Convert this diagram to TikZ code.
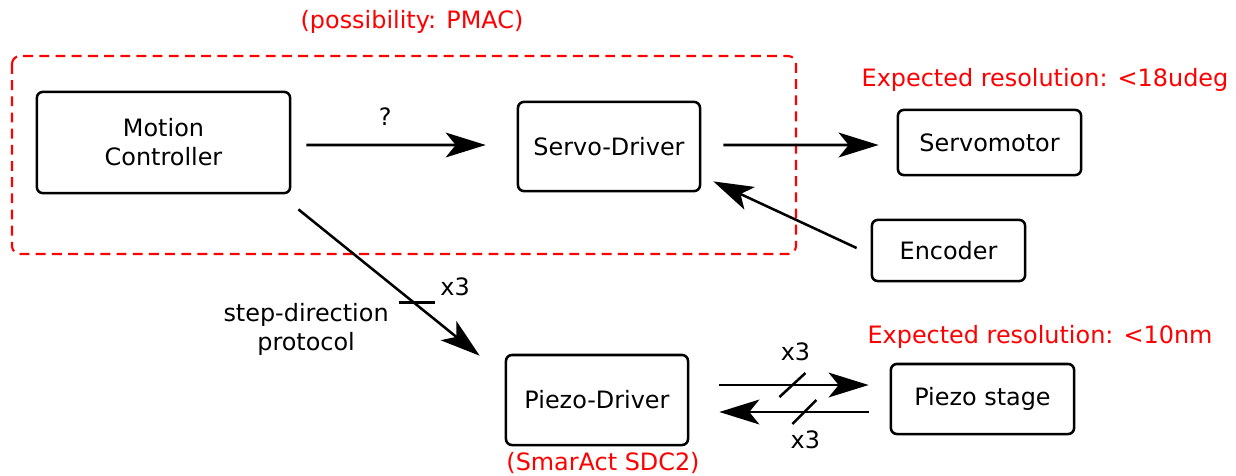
\documentclass[tikz,border=0pt]{standalone}
\usepackage{fontspec}
\setmainfont{DejaVu Sans}
\usetikzlibrary{arrows.meta, positioning, calc}

\begin{document}
\begin{tikzpicture}[x=0.025cm, y=-0.025cm, line width=1.8pt,
    block/.style = {draw, rounded corners=1.5mm, align=center, font=\fontsize{17}{20.6}\selectfont},
    note/.style = {text=red, font=\fontsize{17}{20.6}\selectfont},
    lbl/.style = {font=\fontsize{17}{20.6}\selectfont, align=center},
    flow/.style = {-{Stealth[length=1cm, width=0.62cm, inset=0.25cm]}}]
        \useasboundingbox (0,0) rectangle (1236,475);
        \draw[red, line width=1.5pt, dash pattern=on 7pt off 4.5pt, rounded corners=2mm] (12,56) rectangle (796,254); % PMAC
        \node[note] (pmac) at (412,22) {(possibility: PMAC)};
        \node[block, minimum width=6.33cm, minimum height=2.53cm] (mc) at (163.5,142.5) {Motion\\Controller};
        \node[block, minimum width=4.55cm, minimum height=2.23cm] (sd) at (609,146.5) {Servo-Driver};
        \node[block, minimum width=4.58cm, minimum height=1.63cm] (sm) at (989.5,142.5) {Servomotor};
        \node[block, minimum width=3.83cm, minimum height=1.53cm] (enc) at (948.5,250.5) {Encoder};
        \node[block, minimum width=4.55cm, minimum height=2.25cm] (pd) at (597,400) {Piezo-Driver};
        \node[block, minimum width=4.58cm, minimum height=1.75cm] (ps) at (982.5,399) {Piezo stage};
        \node[note] (res1) at (1045,80) {Expected resolution: <18udeg};
        \node[note] (res2) at (1040,337) {Expected resolution: <10nm};
        \node[note, below=0cm of pd, xshift=0.15cm] (sdc) {(SmarAct SDC2)};
        % servo side
        \draw[flow] ($(mc.east)+(15,2.5)$) -- node[pos=0.44, above=0.35cm, lbl] (q) {?} ($(sd.west)+(-31,-1.5)$);
        \draw[flow] ($(sd.east)+(22,-1.5)$) -- ($(sm.west)+(-18,2.5)$);
        \draw[flow] ($(enc.west)+(-14,-2.5)$) -- ($(sd.south east)+(12,-11)$);
        % piezo side
        \coordinate (s1) at ($(mc.south east)+(7,15)$);
        \coordinate (e1) at ($(pd.north west)+(-25,2)$);
        \coordinate (tk1) at ($(s1)!0.638!(e1)$);
        \draw[flow] (s1) -- (e1);
        \draw ($(tk1)+(-15,0)$) -- ($(tk1)+(21,0)$);
        \node[lbl] (n1) at ($(tk1)+(41,-16)$) {x3};
        \node[lbl] (proto) at ($(tk1)+(-108,27)$) {step-direction\\protocol};
        \draw[flow] ($(pd.east)+(30,-15)$) -- coordinate[pos=0.49] (tk2) ($(ps.west)+(-21,-14)$);
        \draw ($(tk2)+(-13,12)$) -- ($(tk2)+(13,-12)$);
        \node[lbl] (n2) at ($(tk2)+(3,-33)$) {x3};
        \draw[flow] ($(ps.west)+(-21,13)$) -- coordinate[pos=0.43] (tk3) ($(pd.east)+(30,12)$);
        \draw ($(tk3)+(-12,12)$) -- ($(tk3)+(12,-12)$);
        \node[lbl] (n3) at ($(tk3)+(1,28)$) {x3};
\end{tikzpicture}
\end{document}
